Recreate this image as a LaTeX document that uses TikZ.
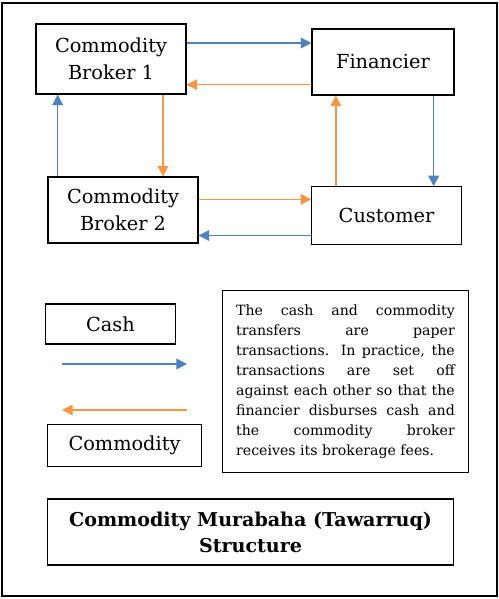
\documentclass[tikz,border=0pt]{standalone}
\usepackage{fontspec}
\setmainfont{DejaVu Serif}
\usetikzlibrary{arrows.meta,positioning}
\definecolor{cashblue}{RGB}{79,129,189}
\definecolor{goodsorange}{RGB}{247,150,70}
\tikzset{
  party/.style={draw, line width=0.8pt, align=center, inner sep=0pt,
                font=\fontsize{14.5}{20}\selectfont},
  cashflow/.style={cashblue, line width=1.1pt, -{Triangle[length=8pt,width=8pt]}},
  goodsflow/.style={goodsorange, line width=1.1pt, -{Triangle[length=8pt,width=8pt]}}
}

\begin{document}
\begin{tikzpicture}[x=0.75pt, y=-0.75pt]
\useasboundingbox (0,0) rectangle (499,599);
% Outer frame
\draw[line width=0.8pt] (2,3) rectangle (497,596);
% Parties
\node[party, minimum width=112.5pt, minimum height=52.5pt] (broker1) at (111,59) {Commodity\\Broker 1};
\node[party, minimum width=106.5pt, minimum height=49.5pt] (financier) at (383,62) {Financier};
\node[party, minimum width=112.5pt, minimum height=49.5pt] (broker2) at (123,210) {Commodity\\Broker 2};
\node[party, minimum width=112pt, minimum height=43pt] (customer) at (386.5,215.5) {Customer};
% Cash flows
\draw[cashflow] ([yshift=12pt]broker1.east) -- ([yshift=12pt]broker1.east -| financier.west);
\draw[cashflow] ([xshift=38pt]financier.south) -- ([xshift=38pt]financier.south |- customer.north);
\draw[cashflow] ([yshift=-15pt]customer.west) -- ([yshift=-15pt]customer.west -| broker2.east);
\draw[cashflow] ([xshift=-49pt]broker2.north) -- ([xshift=-49pt]broker2.north |- broker1.south);
% Commodity flows
\draw[goodsflow] ([yshift=-17pt]financier.west) -- ([yshift=-17pt]financier.west -| broker1.east);
\draw[goodsflow] ([xshift=39pt]broker1.south) -- ([xshift=39pt]broker1.south |- broker2.north);
\draw[goodsflow] ([yshift=8pt]broker2.east) -- ([yshift=8pt]broker2.east -| customer.west);
\draw[goodsflow] ([xshift=-38pt]customer.north) -- ([xshift=-38pt]customer.north |- financier.south);
% Legend
\node[party, minimum width=98pt, minimum height=30pt] (cashkey) at (110.5,324) {Cash};
\node[party, minimum width=115pt, minimum height=31pt] (goodskey) at (124.5,445.5) {Commodity};
\coordinate (cashL) at (62,364);
\coordinate (cashR) at (187,364);
\coordinate (goodsL) at (62,410);
\coordinate (goodsR) at (187,410);
\draw[cashflow] (cashL) -- (cashR);
\draw[goodsflow] (goodsR) -- (goodsL);
% Note
\node[draw, line width=0.8pt, minimum width=185pt, minimum height=136pt,
      text width=164pt, align=justify, font=\fontsize{10.6}{15}\selectfont]
      (note) at (345.5,381.5)
      {The cash and commodity\linebreak transfers are paper\linebreak transactions. In practice, the\linebreak transactions are set off\linebreak against each other so that the\linebreak financier disburses cash and\linebreak the commodity broker\linebreak receives its brokerage fees.};
% Title
\node[draw, line width=0.8pt, minimum width=305pt, minimum height=49.5pt,
      align=center, font=\fontsize{14.3}{19.5}\selectfont\bfseries]
      (title) at (250.5,532) {Commodity Murabaha (Tawarruq)\\Structure};
\end{tikzpicture}
\end{document}
